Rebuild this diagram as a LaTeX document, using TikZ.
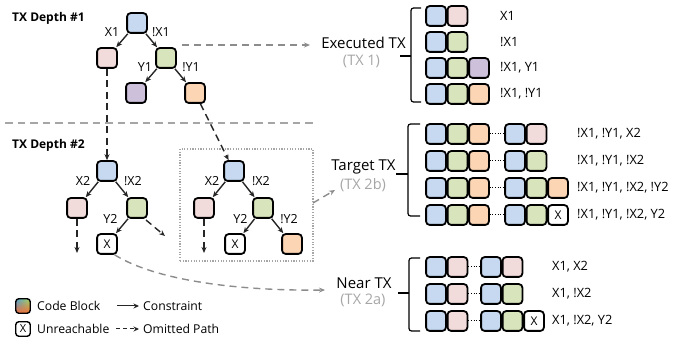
\documentclass[tikz,border=0pt]{standalone}
\usepackage{fontspec}
\setmainfont{Open Sans}
\usetikzlibrary{arrows.meta,fadings}
\definecolor{cblue}{HTML}{C6D9F1}
\definecolor{cpink}{HTML}{F2DCDB}
\definecolor{cgreen}{HTML}{D8E4BC}
\definecolor{cpurple}{HTML}{CCC0DA}
\definecolor{corange}{HTML}{FCD5B4}
\definecolor{lgray}{HTML}{8C8C8C}
\definecolor{tgray}{HTML}{A6A6A6}
\definecolor{gblue}{HTML}{4FA3D9}
\definecolor{ggreen}{HTML}{A8D65A}
\definecolor{gorange}{HTML}{F0703A}
\begin{document}
\begin{tikzpicture}[x=1pt,y=-1pt,
  blk/.style={draw=black, line width=1.8pt, rounded corners=3.5pt, minimum size=19.8pt, inner sep=0pt},
  xblk/.style={blk, fill=white, font=\fontsize{12}{13}\selectfont},
  lbl/.style={inner sep=0pt, font=\fontsize{12.5}{13}\selectfont},
  rl/.style={inner sep=0pt, anchor=west, font=\fontsize{12.8}{14}\selectfont},
  lg/.style={inner sep=0pt, anchor=west, font=\fontsize{12.2}{14}\selectfont},
  big/.style={inner sep=0pt, font=\fontsize{15}{17}\selectfont},
  sub/.style={inner sep=0pt, text=tgray, font=\fontsize{14.5}{16}\selectfont},
  hdr/.style={inner sep=0pt, anchor=west, font=\bfseries\fontsize{12}{13}\selectfont},
  edge/.style={-{Stealth[length=6pt,width=5pt]}, line width=1.4pt, draw=black!85},
  omit/.style={edge, dash pattern=on 7pt off 4.5pt},
  garr/.style={-{Stealth[length=6pt,width=5pt]}, draw=lgray, line width=1.4pt, dash pattern=on 7pt off 5pt},
  brc/.style={draw=black, line width=1.2pt, rounded corners=2.5pt},
  dots/.style={draw=black, line width=1pt, dash pattern=on 1pt off 1.6pt}
]
\useasboundingbox (0,0) rectangle (673,339);

% headers and separator
\node[hdr] (h1) at (12,18) {TX Depth \#1};
\node[hdr] (h2) at (12,145) {TX Depth \#2};
\coordinate (s1) at (5,123);
\coordinate (s2) at (315,123);
\draw[draw=tgray, line width=1.4pt, dash pattern=on 7.5pt off 5pt] (s1) -- (s2);

% depth 1 tree
\node[blk, fill=cblue] (r1) at (137,23) {};
\node[blk, fill=cpink] (p1) at (107,58) {};
\node[blk, fill=cgreen] (g1) at (166,58) {};
\node[blk, fill=cpurple] (u1) at (136,93) {};
\node[blk, fill=corange] (o1) at (195,93) {};
\draw[edge] (r1) -- (p1);
\draw[edge] (r1) -- (g1);
\draw[edge] (g1) -- (u1);
\draw[edge] (g1) -- (o1);
\node[lbl] (lx1) at (112,32.5) {X1};
\node[lbl] (lnx1) at (161,32.5) {!X1};
\node[lbl] (ly1) at (145,67) {Y1};
\node[lbl] (lny1) at (191,67) {!Y1};

% depth 2 tree (left)
\node[blk, fill=cblue] (r2) at (107,171) {};
\node[blk, fill=cpink] (p2) at (77,208) {};
\node[blk, fill=cgreen] (g2) at (137,208) {};
\node[xblk] (x2) at (107,244) {X};
\draw[edge] (r2) -- (p2);
\draw[edge] (r2) -- (g2);
\draw[edge] (g2) -- (x2);
\node[lbl] (lx2) at (83,181) {X2};
\node[lbl] (lnx2) at (133,181) {!X2};
\node[lbl] (ly2) at (110.5,219) {Y2};
\coordinate (p2e) at (77,253);
\coordinate (g2s) at (146,220);
\coordinate (g2e) at (165,236);
\draw[omit] (p2) -- (p2e);
\draw[omit] (g2s) -- (g2e);
\draw[omit] (p1) -- (r2);

% depth 2 tree (boxed)
\node[draw=tgray, line width=1.3pt, dash pattern=on 1.2pt off 1.5pt, minimum width=133pt, minimum height=112pt, inner sep=0pt] (box) at (246.5,205) {};
\node[blk, fill=cblue] (r3) at (234,171) {};
\node[blk, fill=cpink] (p3) at (204,208) {};
\node[blk, fill=cgreen] (g3) at (263,208) {};
\node[xblk] (x3) at (235,244) {X};
\node[blk, fill=corange] (o3) at (292,244) {};
\draw[edge] (r3) -- (p3);
\draw[edge] (r3) -- (g3);
\draw[edge] (g3) -- (x3);
\draw[edge] (g3) -- (o3);
\node[lbl] (lx3) at (212,181) {X2};
\node[lbl] (lnx3) at (261,181) {!X2};
\node[lbl] (ly3) at (240.5,219) {Y2};
\node[lbl] (lny3) at (289,219) {!Y2};
\coordinate (p3e) at (204,253);
\draw[omit] (p3) -- (p3e);
\draw[omit] (o1) -- (r3);

% right side titles
\node[big] (exec) at (363.5,43) {Executed TX};
\node[sub] (tx1) at (361.5,61) {(TX 1)};
\node[big] (targ) at (363.5,167) {Target TX};
\node[sub] (tx2b) at (363,185) {(TX 2b)};
\node[big] (near) at (364,283) {Near TX};
\node[sub] (tx2a) at (363,300) {(TX 2a)};

% gray arrows
\coordinate (ga) at (182,45);
\coordinate (gae) at (310,45);
\draw[garr] (ga) -- (gae);
\coordinate (gb) at (313,203);
\coordinate (gbe) at (335,190);
\draw[garr] (gb) -- (gbe);
\coordinate (gce) at (325,290);
\draw[garr] (x2.-55) .. controls (160,283) and (250,291) .. (gce);

% braces
\draw[brc] (421,8) -- (411,8) -- (411,102) -- (421,102);
\coordinate (bet) at (411,56);
\coordinate (bete) at (400,56);
\draw[draw=black, line width=1.6pt] (bet) -- (bete);
\draw[brc] (420,124) -- (408,124) -- (408,216) -- (420,216);
\coordinate (btt) at (408,174);
\coordinate (btte) at (396,174);
\draw[draw=black, line width=1.6pt] (btt) -- (btte);
\draw[brc] (420,258) -- (409,258) -- (409,331) -- (420,331);
\coordinate (bnt) at (409,293);
\coordinate (bnte) at (398,293);
\draw[draw=black, line width=1.6pt] (bnt) -- (bnte);

% executed rows
\node[blk, fill=cblue] (e1a) at (436,16) {};
\node[blk, fill=cpink] (e1b) at (457.5,16) {};
\node[rl] (e1l) at (500,16) {X1};
\node[blk, fill=cblue] (e2a) at (436,42) {};
\node[blk, fill=cgreen] (e2b) at (457.5,42) {};
\node[rl] (e2l) at (500,42) {!X1};
\node[blk, fill=cblue] (e3a) at (436,68) {};
\node[blk, fill=cgreen] (e3b) at (457.5,68) {};
\node[blk, fill=cpurple] (e3c) at (479,68) {};
\node[rl] (e3l) at (500,68) {!X1, Y1};
\node[blk, fill=cblue] (e4a) at (436,94) {};
\node[blk, fill=cgreen] (e4b) at (457.5,94) {};
\node[blk, fill=corange] (e4c) at (479,94) {};
\node[rl] (e4l) at (500,94) {!X1, !Y1};

% target rows
\foreach \r/\y in {1/134,2/161,3/188,4/215}{
  \node[blk, fill=cblue] (t\r a) at (436,\y) {};
  \node[blk, fill=cgreen] (t\r b) at (457.5,\y) {};
  \node[blk, fill=corange] (t\r c) at (479,\y) {};
  \node[blk, fill=cblue] (t\r d) at (515,\y) {};
  \draw[dots] (t\r c.east) -- (t\r d.west);
}
\node[blk, fill=cpink] (t1e) at (536.5,134) {};
\node[blk, fill=cgreen] (t2e) at (536.5,161) {};
\node[blk, fill=cgreen] (t3e) at (536.5,188) {};
\node[blk, fill=corange] (t3f) at (558,188) {};
\node[blk, fill=cgreen] (t4e) at (536.5,215) {};
\node[xblk] (t4f) at (558,215) {X};
\node[rl] (t1l) at (577,134) {!X1, !Y1, X2};
\node[rl] (t2l) at (577,161) {!X1, !Y1, !X2};
\node[rl] (t3l) at (577,188) {!X1, !Y1, !X2, !Y2};
\node[rl] (t4l) at (577,215) {!X1, !Y1, !X2, Y2};

% near rows
\foreach \r/\y in {1/267,2/294,3/321}{
  \node[blk, fill=cblue] (n\r a) at (436,\y) {};
  \node[blk, fill=cpink] (n\r b) at (457.5,\y) {};
  \node[blk, fill=cblue] (n\r c) at (491,\y) {};
  \draw[dots] (n\r b.east) -- (n\r c.west);
}
\node[blk, fill=cpink] (n1d) at (512.5,267) {};
\node[blk, fill=cgreen] (n2d) at (512.5,294) {};
\node[blk, fill=cgreen] (n3d) at (512.5,321) {};
\node[xblk] (n3e) at (534,321) {X};
\node[rl] (n1l) at (552,267) {X1, X2};
\node[rl] (n2l) at (552,294) {X1, !X2};
\node[rl] (n3l) at (552,321) {X1, !X2, Y2};

% legend
\node[draw=black, line width=1.4pt, rounded corners=3pt, minimum size=14.5pt, inner sep=0pt,
  path picture={
    \shade[left color=gblue, right color=ggreen] (path picture bounding box.south west) rectangle (path picture bounding box.north east);
    \fill[gorange, path fading=north] (path picture bounding box.south west) rectangle (path picture bounding box.north east);
  }] (lcb) at (23,306) {};
\node[draw=black, line width=1.4pt, rounded corners=3pt, minimum size=14.5pt, inner sep=0pt, font=\fontsize{11}{12}\selectfont] (lun) at (23,329) {X};
\node[lg] (lcbt) at (37,306) {Code Block};
\node[lg] (lunt) at (37,329) {Unreachable};
\coordinate (la1) at (117,306);
\coordinate (la2) at (139,306);
\draw[-{Stealth[length=5.5pt,width=5pt]}, line width=1pt, draw=black!85] (la1) -- (la2);
\coordinate (lb1) at (116,329);
\coordinate (lb2) at (139,329);
\draw[-{Stealth[length=5.5pt,width=5pt]}, line width=1pt, draw=black!85, dash pattern=on 4pt off 3pt] (lb1) -- (lb2);
\node[lg] (lct) at (143,306) {Constraint};
\node[lg] (lot) at (143,329) {Omitted Path};
\end{tikzpicture}
\end{document}
